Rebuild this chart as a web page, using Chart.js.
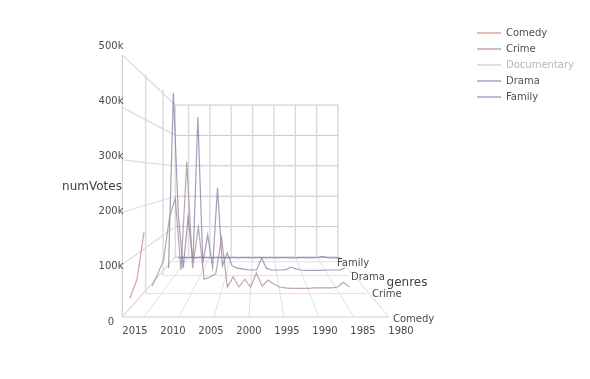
<!DOCTYPE html>
<html><head><meta charset="utf-8">
<style>html,body{margin:0;padding:0;background:#fff}canvas{display:block}</style>
<script src="https://cdn.jsdelivr.net/npm/chart.js@4"></script>
</head><body><canvas id="c" width="590" height="379"></canvas>
<script>
const years = [2017,2016,2015,2014,2013,2012,2011,2010,2009,2008,2007,2006,2005,2004,2003,2002,2001,2000,1999,1998,1997,1996,1995,1994,1993,1992,1991,1990,1989,1988,1987,1986,1985,1984,1983,1982,1981,1980];
const comedyVotes = [36000,72000,162000];
const crimeVotes = [17000,45000,77000,173000,218000,54000,300000,58000,152000,33000,38000,45000,127000,15000,38000,15000,33000,15000,47000,17000,31000,22000,15000,13000,12000,12000,12000,12000,13000,13000,13000,13000,15000,26000,15000];
const dramaVotes = [20000,491000,163000,20000,158000,37000,426000,34000,109000,23000,235000,26000,61000,26000,20000,18000,16000,15000,15000,47000,20000,15000,15000,15000,16000,23000,18000,15000,14000,14000,14000,14000,15000,15000,15000,15000,20000];
const familyVotes = [12000,14000,13000,13000,12000,14000,13000,13000,12000,13000,13000,12000,13000,13000,12000,13000,13000,12000,13000,13000,12000,13000,13000,12000,13000,13000,12000,12000,13000,13000,12000,13000,14000,16000,13000,12000,12000,12000];
const genreNames = ["Comedy","Crime","Documentary","Drama","Family"];
const yearTicks = [2015,2010,2005,2000,1995,1990,1985,1980];
const voteTicks = [0,100000,200000,300000,400000,500000];
const voteTickLabels = ["0","100k","200k","300k","400k","500k"];
const genreTicks = ["Comedy","Crime","Drama","Family"];

// perspective box: front plane (Comedy) to back plane
const depthX = {Comedy:0,Crime:.44,Drama:.77,Family:.96};
const depthY = {Comedy:0,Crime:.39,Drama:.69,Family:.92};
const YEAR_MAX = 2018.1, YEAR_MIN = 1980, VOTE_MAX = 500000;
function proj(year, ux, uy, votes){
  const dy = year-1980;
  const xf = 389-7*dy, xb = 338-4.27*dy;
  const y0 = 317-60*uy, h = 262-110*uy; // px height of 500k
  return {x: xf+ux*(xb-xf), y: y0-(votes/VOTE_MAX)*h};
}
function onGenre(g, year, votes){ return proj(year, depthX[g], depthY[g], votes); }
function line(values, g){ return values.map((v,i)=>onGenre(g, years[i], v)); }

const gridFloor=[], gridBackV=[], gridBackH=[], gridSide=[], gridEdge=[];
const br={x:NaN,y:NaN};
function seg(arr,a,b){ arr.push(a,b,br); }
yearTicks.forEach(yr=>{
  seg(gridFloor, proj(yr,0,0,0), proj(yr,1,1,0));
  seg(gridBackV, proj(yr,1,1,0), proj(yr,1,1,VOTE_MAX));
});
seg(gridBackV, proj(YEAR_MAX,1,1,0), proj(YEAR_MAX,1,1,VOTE_MAX));
voteTicks.forEach(v=>{
  seg(gridBackH, proj(YEAR_MAX,1,1,v), proj(YEAR_MIN,1,1,v));
  seg(gridSide, proj(YEAR_MAX,0,0,v), proj(YEAR_MAX,1,1,v));
});
genreTicks.forEach(g=>{
  seg(g==="Comedy"?gridEdge:gridFloor, onGenre(g,YEAR_MAX,0), onGenre(g,YEAR_MIN,0));
  if(g==="Comedy") seg(gridEdge, onGenre(g,YEAR_MAX,0), onGenre(g,YEAR_MAX,VOTE_MAX));
  else if(g!=="Family") seg(gridBackV, onGenre(g,YEAR_MAX,0), onGenre(g,YEAR_MAX,VOTE_MAX));
});
seg(gridFloor, proj(YEAR_MIN,0,0,0), proj(YEAR_MIN,1,1,0));
seg(gridFloor, proj(YEAR_MAX,0,0,0), proj(YEAR_MAX,1,1,0));

const gridDs=(label,data,color,w)=>({label,data,borderColor:color,borderWidth:w,pointRadius:0,showLine:true,fill:false,spanGaps:false,order:5});
const traceDs=(label,data,color)=>({label,data,borderColor:color,borderWidth:1.2,pointRadius:0,showLine:true,fill:false,order:1});

const legendColors = {Comedy:"#e3a49c",Crime:"#c9a2aa",Documentary:"#d4d4d4",Drama:"#a3a0c6",Family:"#a6a6d2"};
const traceColors = {Comedy:"rgba(205,130,125,.75)",Crime:"rgba(165,135,145,.75)",Drama:"rgba(125,120,160,.72)",Family:"rgba(125,125,175,.8)"};

const labelsPlugin={id:"labels",afterDatasetsDraw(ch){
  const c=ch.ctx; c.save();
  c.textBaseline="middle"; c.fillStyle="#4a4a4a"; c.font='10px "DejaVu Sans"';
  c.textAlign="center";
  yearTicks.forEach(yr=>c.fillText(String(yr),249+(2000-yr)*7.6,331.5));
  voteTicks.forEach((v,i)=>c.fillText(voteTickLabels[i],111,322-55.1*i));
  c.textAlign="left";
  const gp={Comedy:[393,319],Crime:[372,294],Drama:[351,277],Family:[337,263]};
  genreTicks.forEach(g=>c.fillText(g,gp[g][0],gp[g][1]));
  c.font='12px "DejaVu Sans"'; c.textAlign="center"; c.fillStyle="#404040";
  c.fillText("numVotes",92,187);
  c.fillText("genres",407,283);
  c.font='10px "DejaVu Sans"'; c.textAlign="left";
  genreNames.forEach((g,i)=>{
    const y=33+16*i;
    c.strokeStyle=legendColors[g]; c.lineWidth=1.5;
    c.beginPath(); c.moveTo(477,y); c.lineTo(501,y); c.stroke();
    c.fillStyle=g==="Documentary"?"#b5b5b5":"#4f4f4f";
    c.fillText(g,506,y);
  });
  c.restore();
}};

new Chart(document.getElementById("c"),{
  type:"scatter",
  data:{datasets:[
    gridDs("floor",gridFloor,"#e0e0e0",1),
    gridDs("side",gridSide,"#dcdcdc",1.2),
    gridDs("backV",gridBackV,"#dcdcdc",1.5),
    gridDs("backH",gridBackH,"#c6c6d0",1),
    gridDs("edge",gridEdge,"#cfcfcf",1.2),
    traceDs("Comedy",line(comedyVotes,"Comedy"),traceColors.Comedy),
    traceDs("Crime",line(crimeVotes,"Crime"),traceColors.Crime),
    {label:"Documentary",data:[],hidden:true},
    traceDs("Drama",line(dramaVotes,"Drama"),traceColors.Drama),
    traceDs("Family",line(familyVotes,"Family"),traceColors.Family)
  ]},
  options:{
    responsive:false,animation:false,
    layout:{padding:0},
    plugins:{legend:{display:false},tooltip:{enabled:false},title:{display:false}},
    scales:{
      x:{type:"linear",min:0,max:590,display:false},
      y:{type:"linear",min:0,max:379,reverse:true,display:false}
    }
  },
  plugins:[labelsPlugin]
});
</script></body></html>
